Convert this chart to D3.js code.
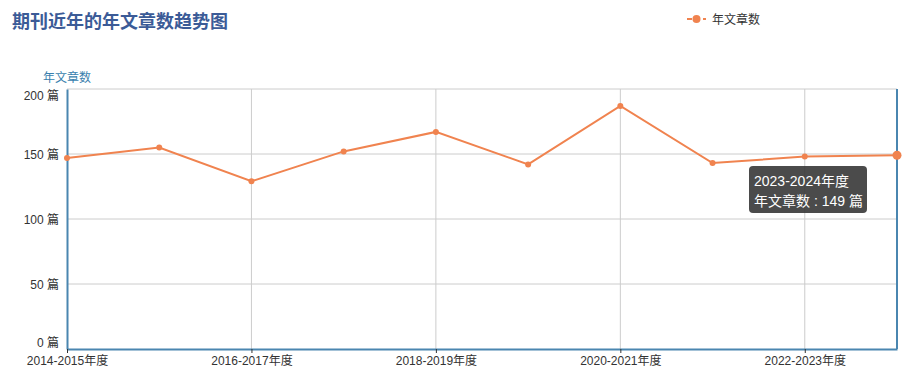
<!DOCTYPE html>
<html>
<head>
<meta charset="utf-8">
<script src="https://cdn.jsdelivr.net/npm/d3@7/dist/d3.min.js"></script>
<style>
  body { margin: 0; background: #fff; }
  svg { display: block; font-family: "Liberation Sans", "Noto Sans CJK SC", sans-serif; }
</style>
</head>
<body>
<svg id="chart" width="916" height="383"></svg>
<script>
// Data
const years = ["2014-2015年度", "2015-2016年度", "2016-2017年度", "2017-2018年度", "2018-2019年度",
               "2019-2020年度", "2020-2021年度", "2021-2022年度", "2022-2023年度", "2023-2024年度"];
const counts = [147, 155, 129, 152, 167, 142, 187, 143, 148, 149];
const yTicks = [0, 50, 100, 150, 200];
const seriesName = "年文章数";
const activeIndex = 9;

const svg = d3.select("#chart");
const margin = { left: 67, right: 19, top: 89, bottom: 34 };
const width = 916, height = 383;
const axisColor = "#4a86b0";
const lineColor = "#f0834f";
const font = "\"Liberation Sans\", \"Noto Sans CJK SC\", sans-serif";

const x = d3.scalePoint().domain(years).range([margin.left, width - margin.right]);
const y = d3.scaleLinear().domain([0, 200]).range([height - margin.bottom, margin.top]);

// Title
svg.append("text")
    .attr("x", 12).attr("y", 28)
    .attr("font-size", 18).attr("font-weight", "bold")
    .attr("font-family", "\"Noto Sans CJK SC\", sans-serif")
    .attr("fill", "#3b5b97")
    .text("期刊近年的年文章数趋势图");

// Legend
const legend = svg.append("g").attr("transform", "translate(687,19)");
legend.append("line").attr("x1", 0).attr("x2", 19).attr("y1", 0).attr("y2", 0)
    .attr("stroke", lineColor).attr("stroke-width", 2).attr("stroke-dasharray", "5,3");
legend.append("circle").attr("cx", 9.5).attr("cy", 0).attr("r", 4).attr("fill", lineColor);
legend.append("text").attr("x", 25).attr("y", 4.5)
    .attr("font-size", 12).attr("fill", "#333").text(seriesName);

// Horizontal grid
svg.append("g").selectAll("line").data(yTicks.filter(d => d > 0)).join("line")
    .attr("x1", margin.left).attr("x2", width - margin.right)
    .attr("y1", d => y(d)).attr("y2", d => y(d))
    .attr("stroke", "#ccc").attr("stroke-width", 1);

// Vertical grid at labelled categories
const labelled = years.filter((d, i) => i % 2 === 0);
svg.append("g").selectAll("line").data(labelled.slice(1)).join("line")
    .attr("x1", d => x(d)).attr("x2", d => x(d))
    .attr("y1", margin.top).attr("y2", y(0))
    .attr("stroke", "#ccc").attr("stroke-width", 1);

// Y axis
const yAxis = svg.append("g")
    .attr("transform", `translate(${margin.left},0)`)
    .call(d3.axisLeft(y).tickValues(yTicks).tickSize(0).tickPadding(8).tickFormat(d => d + " 篇"));
yAxis.select(".domain").attr("stroke", axisColor).attr("stroke-width", 2);
yAxis.selectAll("text").attr("font-size", 12).attr("fill", "#333").attr("font-family", font)
    .attr("dy", d => d === 200 ? "0.85em" : d === 0 ? "-0.2em" : "0.35em");

svg.append("text")
    .attr("x", 43).attr("y", 82)
    .attr("font-size", 12).attr("fill", "#3a7fae")
    .text(seriesName);

// X axis
const xAxis = svg.append("g")
    .attr("transform", `translate(0,${y(0)})`)
    .call(d3.axisBottom(x).tickValues(labelled).tickSizeInner(4).tickSizeOuter(0).tickPadding(3));
xAxis.select(".domain").attr("stroke", axisColor).attr("stroke-width", 2);
xAxis.selectAll(".tick line").attr("stroke", "#333");
xAxis.selectAll("text").attr("font-size", 12).attr("fill", "#333").attr("font-family", font);

// Axis pointer at hovered category
svg.append("line")
    .attr("x1", x(years[activeIndex])).attr("x2", x(years[activeIndex]))
    .attr("y1", margin.top).attr("y2", y(0))
    .attr("stroke", axisColor).attr("stroke-width", 2);

// Line
const line = d3.line().x((d, i) => x(years[i])).y(d => y(d));
svg.append("path").datum(counts)
    .attr("d", line).attr("fill", "none")
    .attr("stroke", lineColor).attr("stroke-width", 2);

svg.append("g").selectAll("circle").data(counts).join("circle")
    .attr("cx", (d, i) => x(years[i])).attr("cy", d => y(d))
    .attr("r", (d, i) => i === activeIndex ? 4.5 : 3)
    .attr("fill", lineColor);

// Tooltip
const tip = svg.append("g").attr("transform", "translate(749,166)");
tip.append("rect").attr("width", 118).attr("height", 47).attr("rx", 4)
    .attr("fill", "rgba(50,50,50,0.88)");
tip.append("text").attr("x", 5).attr("y", 20).attr("font-size", 14).attr("fill", "#fff")
    .text(years[activeIndex]);
tip.append("text").attr("x", 5).attr("y", 40).attr("font-size", 14).attr("fill", "#fff")
    .text(`${seriesName} : ${counts[activeIndex]} 篇`);
</script>
</body>
</html>
